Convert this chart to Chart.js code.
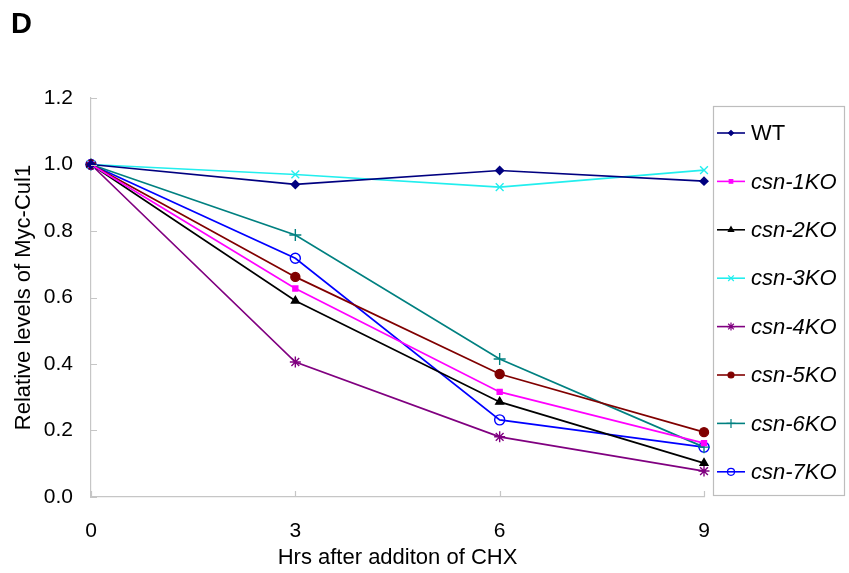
<!DOCTYPE html>
<html>
<head>
<meta charset="utf-8">
<script src="https://cdn.jsdelivr.net/npm/chart.js@4.4.1/dist/chart.umd.min.js"></script>
<style>
  html, body { margin: 0; padding: 0; background: #fff; }
  #wrap { position: relative; width: 849px; height: 573px; }
</style>
</head>
<body>
<div id="wrap"><canvas id="chart" width="849" height="573"></canvas></div>
<script>
// ===== DATA =====
const hours = [0, 3, 6, 9];
const seriesNames = ['WT', 'csn-1KO', 'csn-2KO', 'csn-3KO', 'csn-4KO', 'csn-5KO', 'csn-6KO', 'csn-7KO'];
const wt     = [1.0, 0.940, 0.982, 0.950];
const csn1KO = [1.0, 0.627, 0.316, 0.162];
const csn2KO = [1.0, 0.590, 0.286, 0.102];
const csn3KO = [1.0, 0.970, 0.932, 0.983];
const csn4KO = [1.0, 0.406, 0.181, 0.078];
const csn5KO = [1.0, 0.662, 0.370, 0.195];
const csn6KO = [1.0, 0.788, 0.415, 0.150];
const csn7KO = [1.0, 0.718, 0.232, 0.150];
const yTicks = [0, 0.2, 0.4, 0.6, 0.8, 1.0, 1.2];

// ===== STYLE =====
const FONT = '"Liberation Sans", Arial, sans-serif';
const AXIS = '#c6c6c6';
const styles = [
  { color: '#000080', point: 'rectRot',  r: 4,   fill: true },
  { color: '#ff00ff', point: 'rect',     r: 3.5, fill: true },
  { color: '#000000', point: 'triangle', r: 4.5, fill: true },
  { color: '#22eeee', point: 'crossRot', r: 5.5, fill: false },
  { color: '#800080', point: 'star',     r: 5.5, fill: false },
  { color: '#800000', point: 'circle',   r: 4.5, fill: true },
  { color: '#008080', point: 'cross',    r: 6,   fill: false },
  { color: '#0000ff', point: 'circle',   r: 5,   fill: false }
];
const values = [wt, csn1KO, csn2KO, csn3KO, csn4KO, csn5KO, csn6KO, csn7KO];

const datasets = values.map((vals, i) => ({
  label: seriesNames[i],
  data: vals.map((v, j) => ({ x: hours[j], y: v })),
  borderColor: styles[i].color,
  backgroundColor: styles[i].fill ? styles[i].color : 'rgba(0,0,0,0)',
  borderWidth: 1.7,
  pointStyle: styles[i].point,
  pointRadius: styles[i].r,
  pointBorderWidth: 1.4,
  pointBorderColor: styles[i].color,
  pointBackgroundColor: styles[i].fill ? styles[i].color : 'rgba(0,0,0,0)',
  tension: 0,
  clip: false
}));

// inside tick marks, panel letter and the boxed legend
const decor = {
  id: 'decor',
  afterDraw(chart) {
    const { ctx, chartArea: a, scales: { x, y } } = chart;
    ctx.save();
    ctx.strokeStyle = AXIS;
    ctx.lineWidth = 1.2;
    ctx.beginPath();
    yTicks.forEach(v => {
      const py = Math.round(y.getPixelForValue(v)) + 0.5;
      ctx.moveTo(a.left, py); ctx.lineTo(a.left + 6, py);
    });
    hours.forEach(h => {
      const px = Math.round(x.getPixelForValue(h)) + 0.5;
      ctx.moveTo(px, a.bottom); ctx.lineTo(px, a.bottom - 6);
    });
    ctx.stroke();

    // panel letter
    ctx.fillStyle = '#000';
    ctx.font = 'bold 29px ' + FONT;
    ctx.textBaseline = 'alphabetic';
    ctx.fillText('D', 11, 33);

    // legend box
    const bx = 713, by = 106, bw = 131, bh = 389;
    ctx.strokeStyle = '#bdbdbd';
    ctx.lineWidth = 1.2;
    ctx.strokeRect(bx + 0.5, by + 0.5, bw, bh);

    chart.data.datasets.forEach((ds, i) => {
      const cy = 133 + i * 48.4;
      ctx.strokeStyle = ds.borderColor;
      ctx.lineWidth = 1.6;
      ctx.beginPath();
      ctx.moveTo(717, cy); ctx.lineTo(745, cy);
      ctx.stroke();
      ctx.fillStyle = ds.pointBackgroundColor;
      ctx.strokeStyle = ds.pointBorderColor;
      ctx.lineWidth = 1.2;
      Chart.helpers.drawPoint(ctx, {
        pointStyle: ds.pointStyle,
        radius: Math.max(2.5, ds.pointRadius - 1.5),
        rotation: 0,
        borderWidth: 1.2
      }, 731, cy);
      ctx.fillStyle = '#000';
      ctx.font = (i === 0 ? '' : 'italic ') + '22px ' + FONT;
      ctx.textBaseline = 'middle';
      ctx.fillText(ds.label, 751, cy + 1);
    });
    ctx.restore();
  }
};

new Chart(document.getElementById('chart'), {
  type: 'line',
  data: { datasets },
  options: {
    responsive: false,
    animation: false,
    layout: { padding: { top: 98, right: 145, bottom: 0, left: 0 } },
    plugins: { legend: { display: false }, tooltip: { enabled: false } },
    scales: {
      x: {
        type: 'linear',
        min: 0, max: 9,
        afterFit: s => { s.height = 76; },
        afterBuildTicks: s => { s.ticks = hours.map(v => ({ value: v })); },
        grid: { display: false, drawTicks: false },
        border: { display: true, color: AXIS, width: 1.2 },
        ticks: { color: '#000', padding: 22, font: { family: FONT, size: 21 } },
        title: {
          display: true, text: 'Hrs after additon of CHX', color: '#000',
          font: { family: FONT, size: 22 }, padding: { top: 0, bottom: 2 }
        }
      },
      y: {
        min: 0, max: 1.2,
        afterFit: s => { s.width = 91; },
        afterBuildTicks: s => { s.ticks = yTicks.map(v => ({ value: v })); },
        grid: { display: false, drawTicks: false },
        border: { display: true, color: AXIS, width: 1.2 },
        ticks: {
          color: '#000', padding: 18, font: { family: FONT, size: 21 },
          callback: v => Number(v).toFixed(1)
        },
        title: {
          display: true, text: 'Relative levels of Myc-Cul1', color: '#000',
          font: { family: FONT, size: 22 }, padding: { top: 11, bottom: 0 }
        }
      }
    }
  },
  plugins: [decor]
});
</script>
</body>
</html>
